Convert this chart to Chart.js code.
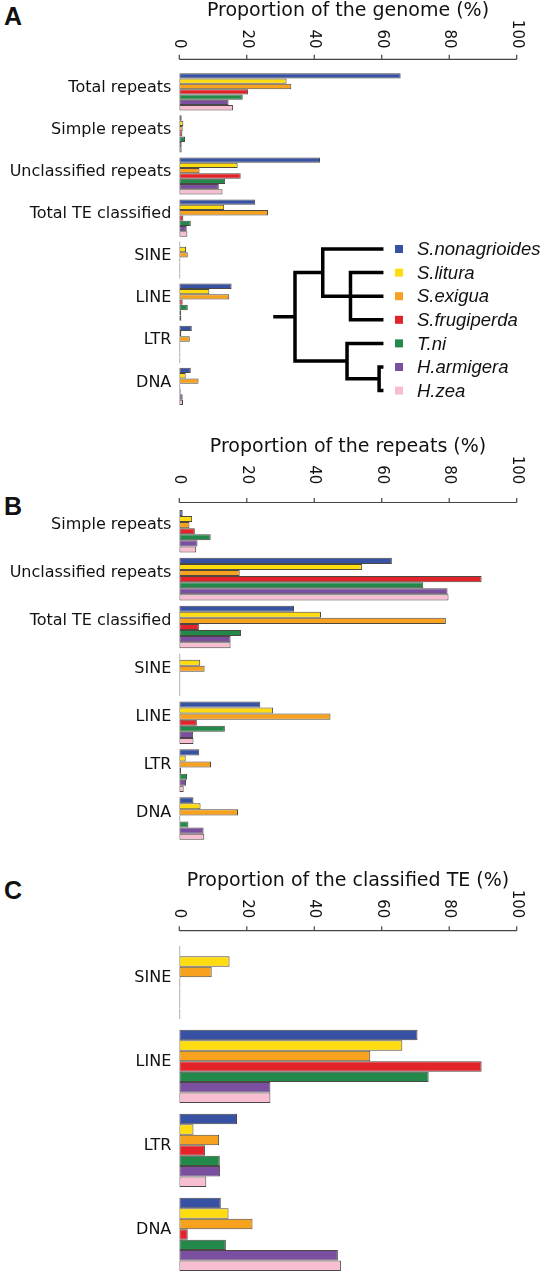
<!DOCTYPE html>
<html>
<head>
<meta charset="utf-8">
<script src="https://cdn.jsdelivr.net/npm/chart.js@4.4.1/dist/chart.umd.min.js"></script>
<style>
  body { margin: 0; background: #fff; width: 545px; height: 1288px; overflow: hidden; position: relative; }
  canvas { position: absolute; left: 0; }
  .tag { position: absolute; left: 4px; font: bold 25px "Liberation Sans"; line-height: 25px; color: #111; }
</style>
</head>
<body>
<div class="tag" style="top:4px">A</div>
<div class="tag" style="top:494px">B</div>
<div class="tag" style="top:878px">C</div>
<canvas id="chartA" width="545" height="425" style="top:0px"></canvas>
<canvas id="chartB" width="545" height="435" style="top:425px"></canvas>
<canvas id="chartC" width="545" height="434" style="top:860px"></canvas>
<script>
// species (legend order) and their colours
const species = ['S.nonagrioides', 'S.litura', 'S.exigua', 'S.frugiperda', 'T.ni', 'H.armigera', 'H.zea'];
const speciesColors = ['#3852a3', '#ffdc0f', '#f6a21e', '#e3232a', '#22894a', '#7a4f9f', '#f7bed1'];

// x axis ticks (shared by the three panels)
const xTicks = ['0', '20', '40', '60', '80', '100'];

// Panel A - proportion of the genome (%)
const genomeCats = ['Total repeats', 'Simple repeats', 'Unclassified repeats', 'Total TE classified', 'SINE', 'LINE', 'LTR', 'DNA'];
const genomeNonagrioides = [65.6, 0.7, 41.7, 22.5, 0.1, 15.5, 3.7, 3.4];
const genomeLitura       = [31.8, 1.2, 17.3, 13.3, 2.0, 8.9, 0.6, 1.9];
const genomeExigua       = [33.2, 1.0, 6.0, 26.3, 2.5, 14.8, 3.1, 5.7];
const genomeFrugiperda   = [20.4, 0.9, 18.2, 1.2, 0.1, 1.0, 0.2, 0.1];
const genomeTni          = [18.8, 1.7, 13.6, 3.4, 0.1, 2.5, 0.3, 0.4];
const genomeArmigera     = [14.6, 0.7, 11.7, 2.2, 0.1, 0.5, 0.3, 1.0];
const genomeZea          = [15.9, 0.7, 12.8, 2.4, 0.1, 0.6, 0.2, 1.1];

// Panel B - proportion of the repeats (%)
const repeatCats = ['Simple repeats', 'Unclassified repeats', 'Total TE classified', 'SINE', 'LINE', 'LTR', 'DNA'];
const repeatNonagrioides = [1.0, 63.0, 34.0, 0.1, 24.0, 5.9, 4.2];
const repeatLitura       = [3.8, 54.2, 42.0, 6.2, 27.8, 1.9, 6.3];
const repeatExigua       = [3.0, 17.9, 79.0, 7.5, 44.8, 9.4, 17.4];
const repeatFrugiperda   = [4.6, 89.6, 5.8, 0.1, 5.2, 0.5, 0.3];
const repeatTni          = [9.3, 72.3, 18.3, 0.1, 13.5, 2.3, 2.7];
const repeatArmigera     = [5.4, 79.5, 15.2, 0.1, 4.1, 2.0, 7.2];
const repeatZea          = [5.0, 79.8, 15.2, 0.1, 4.2, 1.3, 7.4];

// Panel C - proportion of the classified TE (%)
const teCats = ['SINE', 'LINE', 'LTR', 'DNA'];
const teNonagrioides = [0.1, 70.6, 17.1, 12.3];
const teLitura       = [14.9, 66.1, 4.2, 14.6];
const teExigua       = [9.6, 56.6, 11.8, 21.7];
const teFrugiperda   = [0.3, 89.6, 7.6, 2.5];
const teTni          = [0.3, 73.9, 12.0, 13.8];
const teArmigera     = [0.1, 27.0, 12.1, 47.0];
const teZea          = [0.1, 27.0, 8.0, 47.9];

// phylogeny of the species (leaf = index in species list, h = relative node depth)
const tree = { h: 1.0, kids: [
  { h: 0.68, kids: [0, { h: 0.36, kids: [1, 2, 3] }] },
  { h: 0.40, kids: [4, { h: 0.03, kids: [5, 6] }] }
] };

Chart.defaults.font.family = '"DejaVu Sans"';
Chart.defaults.color = '#111';

const AXIS_LEFT = 179.3;
const PAD_RIGHT = 28.3;

// top axis with labels rotated clockwise (reading top to bottom)
const topAxis = {
  id: 'topAxis',
  afterDraw(chart, args, opts) {
    const xs = chart.scales.x;
    const ctx = chart.ctx;
    ctx.save();
    ctx.strokeStyle = '#444';
    ctx.lineWidth = 1.2;
    ctx.beginPath();
    ctx.moveTo(xs.getPixelForValue(+xTicks[0]), opts.axisY);
    ctx.lineTo(xs.getPixelForValue(+xTicks[xTicks.length - 1]), opts.axisY);
    xTicks.forEach(t => {
      const px = xs.getPixelForValue(+t);
      ctx.moveTo(px, opts.axisY);
      ctx.lineTo(px, opts.axisY - 4.5);
    });
    ctx.stroke();
    ctx.fillStyle = '#111';
    ctx.font = '15px "DejaVu Sans"';
    ctx.textAlign = 'right';
    ctx.textBaseline = 'middle';
    xTicks.forEach(t => {
      ctx.save();
      ctx.translate(xs.getPixelForValue(+t), opts.labelEnd);
      ctx.rotate(Math.PI / 2);
      ctx.fillText(t, 0, 0);
      ctx.restore();
    });
    ctx.restore();
  }
};

// legend + dendrogram drawn inside panel A
const treeLegend = {
  id: 'treeLegend',
  afterDraw(chart) {
    const ctx = chart.ctx;
    const rowTop = 249, rowGap = 23.6;
    const rowY = i => rowTop + i * rowGap;
    ctx.save();
    ctx.font = 'italic 18.5px "Liberation Sans"';
    ctx.textBaseline = 'middle';
    ctx.textAlign = 'left';
    chart.data.datasets.forEach((ds, i) => {
      ctx.fillStyle = ds.backgroundColor;
      ctx.fillRect(395, rowY(i) - 4, 8, 8);
      ctx.fillStyle = '#111';
      ctx.fillText(ds.label, 417, rowY(i) + 1);
    });

    const leafX = 381.7, depthW = 86.7;
    ctx.strokeStyle = '#000';
    ctx.lineWidth = 3.5;
    ctx.lineCap = 'square';
    ctx.beginPath();
    function drawNode(n) {
      if (typeof n === 'number') return { x: leafX, y: rowY(n) };
      const pts = n.kids.map(drawNode);
      const x = leafX - n.h * depthW;
      const y = (pts[0].y + pts[pts.length - 1].y) / 2;
      ctx.moveTo(x, pts[0].y);
      ctx.lineTo(x, pts[pts.length - 1].y);
      pts.forEach(p => { ctx.moveTo(x, p.y); ctx.lineTo(p.x, p.y); });
      return { x, y };
    }
    const root = drawNode(tree);
    ctx.moveTo(root.x - 20, root.y);
    ctx.lineTo(root.x, root.y);
    ctx.stroke();
    ctx.restore();
  }
};

function makeChart(id, cats, series, p) {
  const datasets = species.map((name, i) => ({
    label: name,
    data: series[i],
    backgroundColor: speciesColors[i],
    borderColor: 'rgba(45, 40, 35, 0.85)',
    borderWidth: 1,
    borderSkipped: false,
    inflateAmount: 0,
    minBarLength: 1,
    barPercentage: 1,
    categoryPercentage: p.catPct
  }));
  return new Chart(document.getElementById(id), {
    type: 'bar',
    data: { labels: cats, datasets },
    options: {
      indexAxis: 'y',
      responsive: false,
      animation: false,
      layout: { padding: { left: 0, right: PAD_RIGHT, top: 0, bottom: p.padBottom } },
      plugins: {
        legend: { display: false },
        tooltip: { enabled: false },
        topAxis: { axisY: p.axisY, labelEnd: p.labelEnd }
      },
      scales: {
        x: {
          position: 'top',
          min: 0,
          max: 100,
          grid: { display: false, drawTicks: false },
          border: { display: false },
          ticks: { display: false },
          title: {
            display: true,
            text: p.title,
            font: { size: 19 },
            color: '#111',
            padding: { top: p.titlePad, bottom: 0 }
          },
          afterFit: s => { s.height = p.xHeight; }
        },
        y: {
          grid: { display: false, drawTicks: false },
          border: { display: false },
          ticks: { font: { size: 16 }, color: '#111', padding: 8, labelOffset: p.labelOffset, autoSkip: false },
          afterFit: s => { s.width = AXIS_LEFT; }
        }
      }
    },
    plugins: p.extra ? [topAxis, p.extra] : [topAxis]
  });
}

makeChart('chartA', genomeCats,
  [genomeNonagrioides, genomeLitura, genomeExigua, genomeFrugiperda, genomeTni, genomeArmigera, genomeZea],
  { title: 'Proportion of the genome (%)', xHeight: 70.8, titlePad: 0, padBottom: 6.8, catPct: 0.884,
    labelOffset: -4, axisY: 59.3, labelEnd: 48.5, extra: treeLegend });

makeChart('chartB', repeatCats,
  [repeatNonagrioides, repeatLitura, repeatExigua, repeatFrugiperda, repeatTni, repeatArmigera, repeatZea],
  { title: 'Proportion of the repeats (%)', xHeight: 82.3, titlePad: 10.6, padBottom: 4, catPct: 0.89,
    labelOffset: -6, axisY: 77.5, labelEnd: 59.4 });

makeChart('chartC', teCats,
  [teNonagrioides, teLitura, teExigua, teFrugiperda, teTni, teArmigera, teZea],
  { title: 'Proportion of the classified TE (%)', xHeight: 80.4, titlePad: 9.6, padBottom: 0.8, catPct: 0.873,
    labelOffset: -5, axisY: 70.7, labelEnd: 58.3 });
</script>
</body>
</html>
